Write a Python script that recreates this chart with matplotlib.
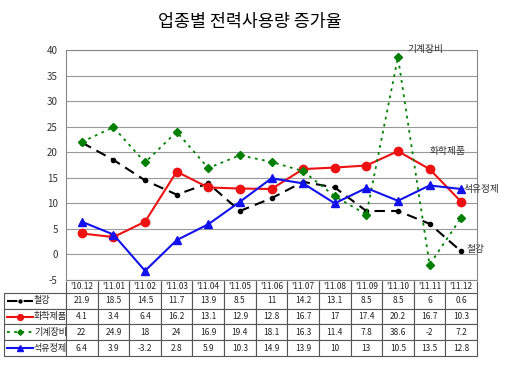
import matplotlib
matplotlib.use("Agg")
import matplotlib.pyplot as plt
from matplotlib.lines import Line2D

plt.rcParams['font.family'] = ['Noto Sans CJK KR', 'DejaVu Sans']
plt.rcParams['axes.unicode_minus'] = False

categories = ["'10.12", "'11.01", "'11.02", "'11.03", "'11.04", "'11.05", "'11.06",
              "'11.07", "'11.08", "'11.09", "'11.10", "'11.11", "'11.12"]
steel = [21.9, 18.5, 14.5, 11.7, 13.9, 8.5, 11, 14.2, 13.1, 8.5, 8.5, 6, 0.6]
chem = [4.1, 3.4, 6.4, 16.2, 13.1, 12.9, 12.8, 16.7, 17, 17.4, 20.2, 16.7, 10.3]
mach = [22, 24.9, 18, 24, 16.9, 19.4, 18.1, 16.3, 11.4, 7.8, 38.6, -2, 7.2]
petro = [6.4, 3.9, -3.2, 2.8, 5.9, 10.3, 14.9, 13.9, 10, 13, 10.5, 13.5, 12.8]
names = ["철강", "화학제품", "기계장비", "석유정제"]
title = "업종별 전력사용량 증가율"

W, H = 510, 370
fig = plt.figure(figsize=(W / 100, H / 100), dpi=100)
ax_l, ax_r, ax_t, ax_b = 66, 477, 50, 280
ax = fig.add_axes([ax_l / W, 1 - ax_b / H, (ax_r - ax_l) / W, (ax_b - ax_t) / H])

x = list(range(len(categories)))
styles = [
    dict(color='black', linestyle=(0, (5, 3)), lw=1.5, marker='o', ms=3),
    dict(color='#ee1111', linestyle='-', lw=1.5, marker='o', ms=6),
    dict(color='#008000', linestyle=(0, (1.5, 2.5)), lw=1.3, marker='D', ms=4),
    dict(color='#1111ee', linestyle='-', lw=1.5, marker='^', ms=6),
]
series = [steel, chem, mach, petro]
for s, st in zip(series, styles):
    ax.plot(x, s, **st, zorder=3)

ax.set_xlim(-0.5, len(categories) - 0.5)
ax.set_ylim(-5, 40)
ax.set_yticks(range(-5, 41, 5))
ax.set_xticks([])
ax.grid(axis='y', color='#999999', lw=0.8)
ax.set_axisbelow(True)
for sp in ax.spines.values():
    sp.set_color('#888888')
    sp.set_linewidth(0.8)
ax.tick_params(axis='y', length=0, labelsize=7, pad=6, colors='#333333')

# end labels
ax.annotate(names[2], (10, mach[10]), xytext=(7, 6), textcoords='offset points',
            fontsize=7, color='#333333', va='center', ha='left')
ax.annotate(names[1], (11, chem[11]), xytext=(0, 13), textcoords='offset points',
            fontsize=7, color='#333333', va='center', ha='left')
ax.annotate(names[3], (12, petro[12]), xytext=(2, 0), textcoords='offset points',
            fontsize=7, color='#333333', va='center', ha='left')
ax.annotate(names[0], (12, steel[12]), xytext=(4, 2), textcoords='offset points',
            fontsize=7, color='#333333', va='center', ha='left')

fig.text(250 / W, 1 - 22 / H, title, fontsize=12.5, ha='center', va='center')

# table
n = len(categories)
cell_text = [[""] + [f"{v:g}" for v in s] for s in series]
tb_top, tb_bot = 281, 356
tb_left = 4
bx0 = (tb_left - ax_l) / (ax_r - ax_l)
by0 = -(tb_bot - ax_b) / (ax_b - ax_t)
bh = (tb_bot - tb_top) / (ax_b - ax_t)
col_w = [(ax_l - tb_left) / (ax_r - ax_l)] + [1 / n] * n
tbl = ax.table(cellText=cell_text, colLabels=[""] + categories, colWidths=col_w,
               cellLoc='center', bbox=[bx0, by0, 1 - bx0, bh])
tbl.auto_set_font_size(False)
tbl.set_fontsize(6)
for (r, c), cell in tbl.get_celld().items():
    cell.set_edgecolor('#555555')
    cell.set_linewidth(0.8)
    if r == 0:
        cell.set_height(0.75)
        cell.visible_edges = '' if c == 0 else 'LR'
    else:
        cell.set_height(1.0)
    cell.get_text().set_color('#222222')

# line samples and names in row label cells (pixel coordinates)
row_h = (tb_bot - tb_top) / 4.75
y0 = tb_top + 0.75 * row_h
for i, (nm, st) in enumerate(zip(names, styles)):
    yc = y0 + row_h * (i + 0.5)
    yf = 1 - yc / H
    st2 = dict(st)
    st2['ms'] = st['ms'] * 0.7
    ln = Line2D([7 / W, 33 / W], [yf, yf], transform=fig.transFigure, **st2)
    ln.set_markevery([])
    fig.add_artist(ln)
    fig.add_artist(Line2D([20 / W], [yf], transform=fig.transFigure, color=st['color'],
                          marker=st['marker'], ms=st2['ms'], linestyle='none'))
    fig.text(34 / W, yf, nm, fontsize=6.5, ha='left', va='center', color='#222222')

fig.savefig('out.png', dpi=100)
